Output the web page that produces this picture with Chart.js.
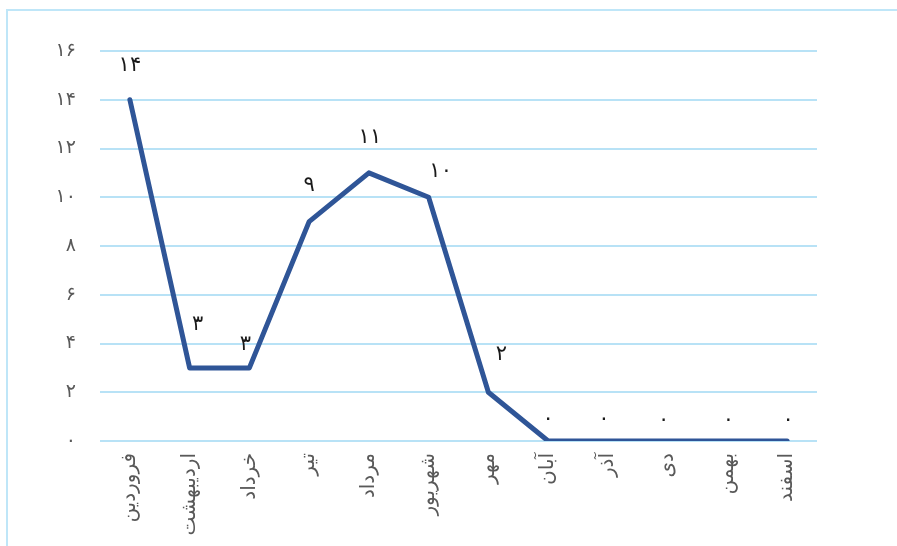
<!DOCTYPE html>
<html>
<head>
<meta charset="utf-8">
<script src="https://cdn.jsdelivr.net/npm/chart.js@4/dist/chart.umd.min.js"></script>
<style>
    body { margin: 0; background: #fff; overflow: hidden; }
    .frame {
        position: absolute; left: 6px; top: 9px; width: 910px; height: 560px;
        border: 2px solid #bfe6f8; box-sizing: border-box;
    }
    .wrap { position: absolute; left: 0; top: 0; width: 897px; height: 546px; }
</style>
</head>
<body>
<div class="frame"></div>
<div class="wrap"><canvas id="monthly"></canvas></div>
<script>
// Persian months and counts
const months = ['فروردین', 'اردیبهشت', 'خرداد', 'تیر', 'مرداد', 'شهریور', 'مهر', 'آبان', 'آذر', 'دی', 'بهمن', 'اسفند'];
const counts = [14, 3, 3, 9, 11, 10, 2, 0, 0, 0, 0, 0];
const yTicks = [0, 2, 4, 6, 8, 10, 12, 14, 16];

const faDigits = '۰۱۲۳۴۵۶۷۸۹';
const toFa = n => String(n).replace(/\d/g, d => faDigits[d]);

// small label nudges like the original layout [dx, dy]
const labelNudge = [[0, -34], [8, -43], [-4, -23], [0, -36], [1, -35], [12, -26],
    [13, -38], [0, -21], [-4, -21], [-4, -20], [1, -20], [1, -20]];

const valueLabels = {
    id: 'valueLabels',
    afterDatasetsDraw(chart) {
        const ctx = chart.ctx;
        const meta = chart.getDatasetMeta(0);
        ctx.save();
        ctx.font = '21px "DejaVu Sans"';
        ctx.fillStyle = '#1a1a1a';
        ctx.textAlign = 'center';
        ctx.textBaseline = 'middle';
        meta.data.forEach((pt, i) => {
            const n = labelNudge[i] || [0, -30];
            ctx.fillText(toFa(counts[i]), pt.x + n[0], pt.y + n[1]);
        });
        ctx.restore();
    }
};

const ctx = document.getElementById('monthly').getContext('2d');
new Chart(ctx, {
    type: 'line',
    data: {
        labels: months,
        datasets: [{
            data: counts,
            borderColor: '#2f5597',
            borderWidth: 5,
            pointRadius: 0,
            tension: 0,
            borderJoinStyle: 'round',
            borderCapStyle: 'round'
        }]
    },
    options: {
        responsive: true,
        maintainAspectRatio: false,
        animation: false,
        layout: { padding: { top: 51, right: 80, bottom: 0, left: 0 } },
        plugins: {
            legend: { display: false },
            tooltip: { enabled: false }
        },
        scales: {
            x: {
                offset: true,
                grid: { display: false, drawTicks: false },
                border: { display: false },
                ticks: {
                    color: '#595959',
                    font: { family: 'DejaVu Sans', size: 20 },
                    minRotation: 90,
                    maxRotation: 90,
                    padding: 12,
                    autoSkip: false
                },
                afterFit: s => { s.height = 105; }
            },
            y: {
                min: 0,
                max: 16,
                afterBuildTicks: s => { s.ticks = yTicks.map(v => ({ value: v })); },
                grid: { color: '#b8e2f6', lineWidth: 2, drawTicks: false },
                border: { display: false },
                ticks: {
                    color: '#595959',
                    font: { family: 'DejaVu Sans', size: 19 },
                    padding: 24,
                    callback: v => toFa(v)
                },
                afterFit: s => { s.width = 100; }
            }
        }
    },
    plugins: [valueLabels]
});
</script>
</body>
</html>
